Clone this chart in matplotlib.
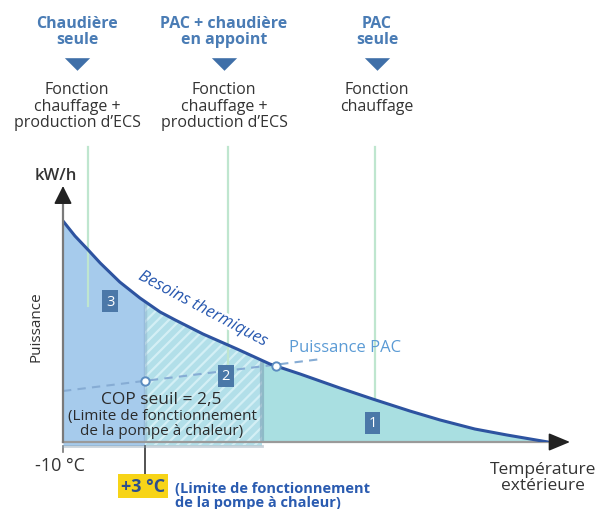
import numpy as np
import matplotlib
matplotlib.use('Agg')
import matplotlib.pyplot as plt
from matplotlib.patches import Rectangle
import matplotlib.patheffects as pe

plt.rcParams['font.family'] = ['Open Sans', 'DejaVu Sans']
plt.rcParams['hatch.linewidth'] = 1.6

temp_c = [-10.0, -8.1, -6.0, -4.1, -1.0, 2.2, 5.4, 7.8, 12.2, 17.6, 22.8,
          27.6, 33.9, 39.1, 45.0, 49.8, 55.3, 60.4, 66.9]
besoins_kw = [22.1, 20.6, 19.2, 17.9, 16.0, 14.4, 13.0, 12.2, 10.8, 9.3, 7.8,
              6.8, 5.4, 4.3, 3.1, 2.2, 1.3, 0.7, 0.0]

# droite "Puissance PAC"
pac_temp = [-10.0, 31.0]
pac_kw = [5.1, 8.3]

# points remarquables (COP seuil, équilibre PAC / besoins)
pts_temp = [3.0, 23.8]
pts_kw = [6.1, 7.6]

# limites de zones
t_min = -10.0
t_cop = 3.0
t_zone2 = 21.5

# numéros de zones
zone_labels = ['3', '2', '1']
zone_temp = [-2.5, 15.8, 39.1]
zone_kw = [14.1, 6.6, 1.9]

# verticales des modes de fonctionnement
mode_temp = [-6.0, 16.2, 39.5]
mode_bottom = [13.6, 7.5, 4.3]
mode_titles = ['Chaudière\nseule', 'PAC + chaudière\nen appoint', 'PAC\nseule']
mode_desc = ['Fonction\nchauffage +\nproduction d\u2019ECS',
             'Fonction\nchauffage +\nproduction d\u2019ECS',
             'Fonction\nchauffage']
mode_px = [77, 224, 377]

W, H = 597, 510
fig = plt.figure(figsize=(W / 100, H / 100), dpi=100)
ax = fig.add_axes([63 / W, (H - 443) / H, 507 / W, 256 / H])
ax.set_xlim(t_min, 70.4)
ax.set_ylim(0, 25.6)
ax.axis('off')

T = np.array(temp_c)
P = np.array(besoins_kw)

# zone 1 (fond turquoise)
ax.fill_between(T, 0, P, color='#a9dfe1', lw=0, zorder=1)
# zone 3 (bleu)
f3 = ax.fill_between(T, -0.35, P, color='#a6cbec', lw=0, zorder=2)
f3.set_clip_path(Rectangle((t_min, -1), t_cop - t_min, 30, transform=ax.transData))
# zone 2 (hachurée)
f2 = ax.fill_between(T, -0.35, P, facecolor='#b2dfe9', edgecolor='#d3eff5',
                     hatch='///', lw=0, zorder=2)
f2.set_clip_path(Rectangle((t_cop, -1), t_zone2 - t_cop, 30, transform=ax.transData))

# ombres des zones 2 et 3
ax.plot([t_zone2, t_zone2], [-0.35, 8.2], color='#6f8fa8', alpha=0.45, lw=3, zorder=3,
        solid_capstyle='butt')
ax.plot([t_cop, t_cop], [-0.35, 14.0], color='#7f9fbf', alpha=0.35, lw=2.5, zorder=3,
        solid_capstyle='butt')
ax.plot([t_min, t_zone2], [-0.35, -0.35], color='#8aa0b0', alpha=0.45, lw=2, zorder=3,
        clip_on=False)

# verticales vertes
for t, b in zip(mode_temp, mode_bottom):
    ax.plot([t, t], [b, 29.5], color='#bfe6cf', lw=1.6, zorder=2.5, clip_on=False)

# courbe des besoins
ax.plot(T, P, color='#2d53a0', lw=2.2, zorder=5, solid_capstyle='round')

# puissance PAC
ax.plot(pac_temp, pac_kw, color='#86acd4', lw=1.5, dashes=(4, 3), zorder=4)
ax.scatter(pts_temp, pts_kw, s=36, facecolor='white', edgecolor='#5b8cc0', lw=1.4, zorder=6)

# axes avec flèches
ax.plot([t_min, t_min], [0, 24.3], color='#7a7a7a', lw=1.6, zorder=7, clip_on=False)
ax.annotate('', xy=(t_min, 25.6), xytext=(t_min, 24.0),
            arrowprops=dict(arrowstyle='-|>,head_length=0.5,head_width=0.25',
                            color='#222222', lw=1.2, mutation_scale=22,
                            shrinkA=0, shrinkB=0), zorder=8, annotation_clip=False)
ax.plot([t_min, 68.6], [0, 0], color='#9a9a9a', lw=1.6, zorder=4, clip_on=False)
ax.annotate('', xy=(70.4, 0), xytext=(68.0, 0),
            arrowprops=dict(arrowstyle='-|>,head_length=0.6,head_width=0.25',
                            color='#222222', lw=1.2, mutation_scale=22,
                            shrinkA=0, shrinkB=0), zorder=8, annotation_clip=False)
ax.plot([t_min, t_min], [-0.4, -1.0], color='#777777', lw=1.2, clip_on=False)
ax.plot([t_cop, t_cop], [-0.4, -3.4], color='#444444', lw=1.3, clip_on=False)

# numéros de zones
for lab, t, p in zip(zone_labels, zone_temp, zone_kw):
    ax.text(t, p, lab, color='white', fontsize=10.5, ha='center', va='center', zorder=9,
            bbox=dict(boxstyle='square,pad=0.25', fc='#4b78a8', ec='none'))

ax.text(12.2, 13.3, 'Besoins thermiques', color='#2a5ab0', fontsize=12, style='italic',
        rotation=-28, ha='center', va='center', rotation_mode='anchor', zorder=9,
        path_effects=[pe.withStroke(linewidth=4, foreground='white')])
ax.text(25.9, 9.5, 'Puissance PAC', color='#5b9bd5', fontsize=12, ha='left', va='center',
        zorder=9)

# textes de mise en page (coordonnées en pixels)
deco = fig.add_axes([0, 0, 1, 1], zorder=5)
deco.set_xlim(0, W)
deco.set_ylim(H, 0)
deco.axis('off')

tri = [(-1, 0.5), (1, 0.5), (0, -0.5)]
deco.scatter(mode_px, [65] * 3, marker=tri, s=330, color='#3f6fa8', lw=0)
for x, title, desc in zip(mode_px, mode_titles, mode_desc):
    deco.text(x, 32, title, color='#4a7cb5', fontsize=11.5, fontweight='bold',
              ha='center', va='center', linespacing=0.95)
    deco.text(x, 82, desc, color='#333333', fontsize=11.5, ha='center', va='top',
              linespacing=1.05)

deco.text(56, 176, 'kW/h', color='#333333', fontsize=12, fontweight='semibold',
          ha='center', va='center')
deco.text(36, 327, 'Puissance', color='#333333', fontsize=11, rotation=90,
          ha='center', va='center')
deco.text(161, 400, 'COP seuil = 2,5', color='#2b2b2b', fontsize=12.5,
          ha='center', va='center')
deco.text(162, 424, '(Limite de fonctionnement\nde la pompe à chaleur)', color='#2b2b2b',
          fontsize=11, ha='center', va='center', linespacing=1.0)
deco.text(60, 466, '-10 °C', color='#333333', fontsize=13, ha='center', va='center')
deco.text(143, 487, '+3 °C', color='#2d4f8e', fontsize=13, fontweight='bold',
          ha='center', va='center',
          bbox=dict(boxstyle='square,pad=0.15', fc='#f7d417', ec='none'))
deco.text(175, 496, '(Limite de fonctionnement\nde la pompe à chaleur)', color='#2a5bb0',
          fontsize=10.5, fontweight='bold', ha='left', va='center', linespacing=0.95)
deco.text(543, 478, 'Température\nextérieure', color='#333333', fontsize=12.5,
          ha='center', va='center', linespacing=1.0)

fig.savefig('out.png', dpi=100)
